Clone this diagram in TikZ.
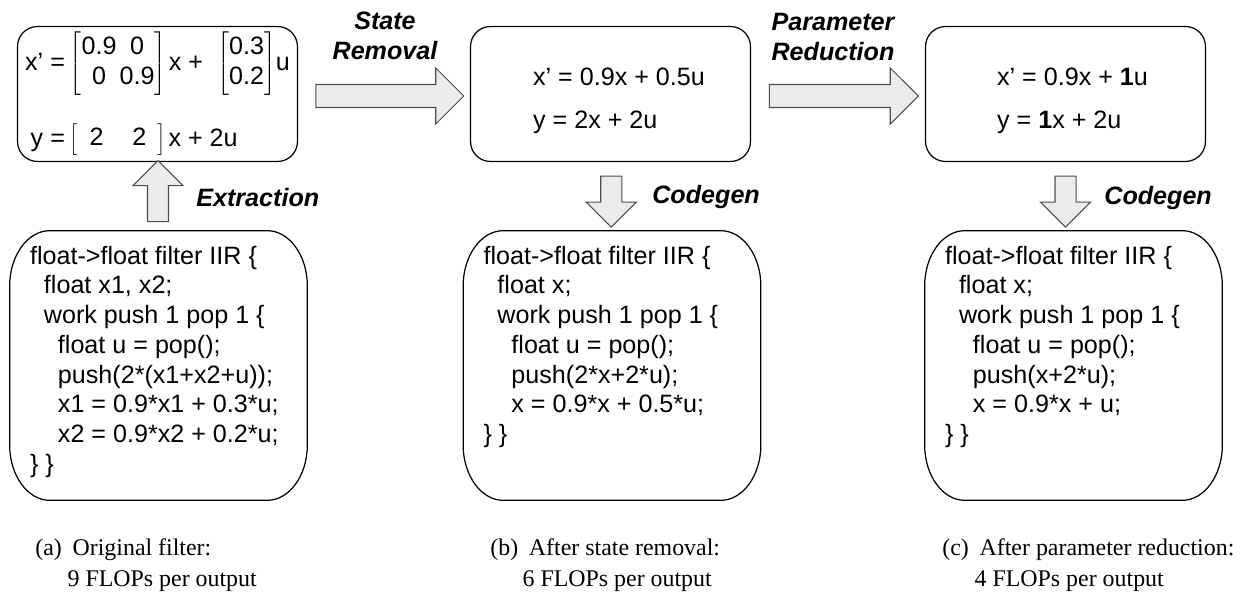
\documentclass[tikz,border=0pt]{standalone}
\usepackage{fontspec}
\setmainfont{Liberation Serif}
\setsansfont{Liberation Sans}
\usepackage{tikz}
\usetikzlibrary{positioning,calc,shapes.arrows}
\definecolor{flowFill}{HTML}{EBEBEB}
\definecolor{flowLine}{HTML}{4D4D4D}
\newcommand{\boxfont}{\sffamily\fontsize{14.3}{16.9}\selectfont}
\newcommand{\capfont}{\rmfamily\fontsize{13.6}{17.6}\selectfont}
\newcommand{\ind}{\hspace*{0.556em}}
\newcommand{\codeframe}[1]{%
  \draw[line width=0.7pt] ([xshift=0.8cm]#1.north west) -- ([xshift=-0.8cm]#1.north east)
    .. controls ([xshift=-0.36cm]#1.north east) and ([yshift=-0.5cm]#1.north east) .. ([yshift=-1.1cm]#1.north east)
    -- ([yshift=1.1cm]#1.south east)
    .. controls ([yshift=0.5cm]#1.south east) and ([xshift=-0.36cm]#1.south east) .. ([xshift=-0.8cm]#1.south east)
    -- ([xshift=0.8cm]#1.south west)
    .. controls ([xshift=0.36cm]#1.south west) and ([yshift=0.5cm]#1.south west) .. ([yshift=1.1cm]#1.south west)
    -- ([yshift=-1.1cm]#1.north west)
    .. controls ([yshift=-0.5cm]#1.north west) and ([xshift=0.36cm]#1.north west) .. cycle;}

\begin{document}
\begin{tikzpicture}[
  x=0.02cm,
  y=-0.02cm,
  eqbox/.style={draw, rounded corners=0.4cm, line width=0.7pt, minimum width=5.6cm,
    minimum height=2.7cm, inner sep=0pt, font=\boxfont},
  eqtext/.style={align=left, inner sep=0pt, font=\boxfont},
  codearea/.style={minimum width=5.94cm, minimum height=5.38cm, inner sep=0pt},
  codetext/.style={anchor=north west, align=left, inner sep=0pt, font=\boxfont},
  blockarrow/.style={single arrow, draw=flowLine, fill=flowFill, line width=0.6pt,
    inner sep=0pt, inner ysep=0.22cm, minimum width=0pt, single arrow head extend=0.33cm},
  vblockarrow/.style={blockarrow, inner ysep=0.2cm, single arrow head extend=0.29cm},
  steplabel/.style={align=center, inner sep=0pt, font=\boxfont\bfseries\itshape},
  captext/.style={anchor=north west, align=left, inner sep=0pt, font=\capfont}
]
\useasboundingbox (0,0) rectangle (1255,605);

\node[eqbox] (eqa) at (157.5,94) {%
  \begin{tabular}{@{}r@{\hspace{0.2em}}l@{}}
  x’ = & $\left[\begin{tabular}{@{}c@{\hspace{0.12em}}c@{}}0.9&0\\0&0.9\end{tabular}\right]$\hspace{0.1em}x + \hspace{0.3em}$\left[\begin{tabular}{@{}c@{}}0.3\\0.2\end{tabular}\right]$u\\[0.9cm]
  y = & $\left[\hspace{0.45em}\begin{tabular}{@{}c@{\hspace{1.15em}}c@{}}2&2\end{tabular}\hspace{0.45em}\right]$\hspace{0.1em}x + 2u
  \end{tabular}};
\node[eqbox] (eqb) at (610.5,94) {};
\node[eqbox] (eqc) at (1065.5,94) {};
\node[eqtext] (eqbtext) at ([xshift=0.17cm,yshift=-0.13cm]eqb.center) {x’ = 0.9x + 0.5u\\[0.27cm]y = 2x + 2u};
\node[eqtext] (eqctext) at ([xshift=0.14cm,yshift=-0.13cm]eqc.center) {x’ = 0.9x + \textbf{1}u\\[0.27cm]y = \textbf{1}x + 2u};

\node[codearea] (codea) at (158.5,365.5) {};
\node[codearea] (codeb) at (612,365.5) {};
\node[codearea] (codec) at (1073.5,365.5) {};
\codeframe{codea}
\codeframe{codeb}
\codeframe{codec}

\node[codetext] (srca) at ([xshift=0.4cm,yshift=-0.3cm]codea.north west) {float->float filter IIR \{\\
\ind float x1, x2;\\
\ind work push 1 pop 1 \{\\
\ind\ind float u = pop();\\
\ind\ind push(2*(x1+x2+u));\\
\ind\ind x1 = 0.9*x1 + 0.3*u;\\
\ind\ind x2 = 0.9*x2 + 0.2*u;\\
\} \}};
\node[codetext] (srcb) at ([xshift=0.4cm,yshift=-0.3cm]codeb.north west) {float->float filter IIR \{\\
\ind float x;\\
\ind work push 1 pop 1 \{\\
\ind\ind float u = pop();\\
\ind\ind push(2*x+2*u);\\
\ind\ind x = 0.9*x + 0.5*u;\\
\} \}};
\node[codetext] (srcc) at ([xshift=0.4cm,yshift=-0.3cm]codec.north west) {float->float filter IIR \{\\
\ind float x;\\
\ind work push 1 pop 1 \{\\
\ind\ind float u = pop();\\
\ind\ind push(x+2*u);\\
\ind\ind x = 0.9*x + u;\\
\} \}};

\node[blockarrow, minimum height=2.96cm] (removal) at ($(eqa.east)!0.5!(eqb.west)+(0,2)$) {};
\node[blockarrow, minimum height=2.98cm] (reduction) at ($(eqb.east)!0.5!(eqc.west)+(0,2)$) {};
\node[vblockarrow, minimum height=1.22cm, rotate=90] (extract) at ($(eqa.south)!0.5!(codea.north)$) {};
\node[vblockarrow, minimum height=1.02cm, rotate=-90] (gena) at ($(eqb.south)!0.5!(codeb.north)$) {};
\node[vblockarrow, minimum height=1.02cm, rotate=-90] (genb) at ($(eqc.south)!0.5!(eqc.south |- codec.north)$) {};

\node[steplabel] (removaltxt) at (385,36) {State\\Removal};
\node[steplabel] (reductiontxt) at (833,37) {Parameter\\Reduction};
\node[steplabel, anchor=west] (extracttxt) at (196,198) {Extraction};
\node[steplabel, anchor=west] (genatxt) at (652,197) {Codegen};
\node[steplabel, anchor=west] (genbtxt) at (1104,198) {Codegen};

\node[captext] (capa) at (35,538) {(a)\hspace{0.45em}Original filter:\\\hspace*{1.35em}9 FLOPs per output};
\node[captext] (capb) at (490,538) {(b)\hspace{0.45em}After state removal:\\\hspace*{1.35em}6 FLOPs per output};
\node[captext] (capc) at (942,538) {(c)\hspace{0.45em}After parameter reduction:\\\hspace*{1.35em}4 FLOPs per output};
\end{tikzpicture}
\end{document}
